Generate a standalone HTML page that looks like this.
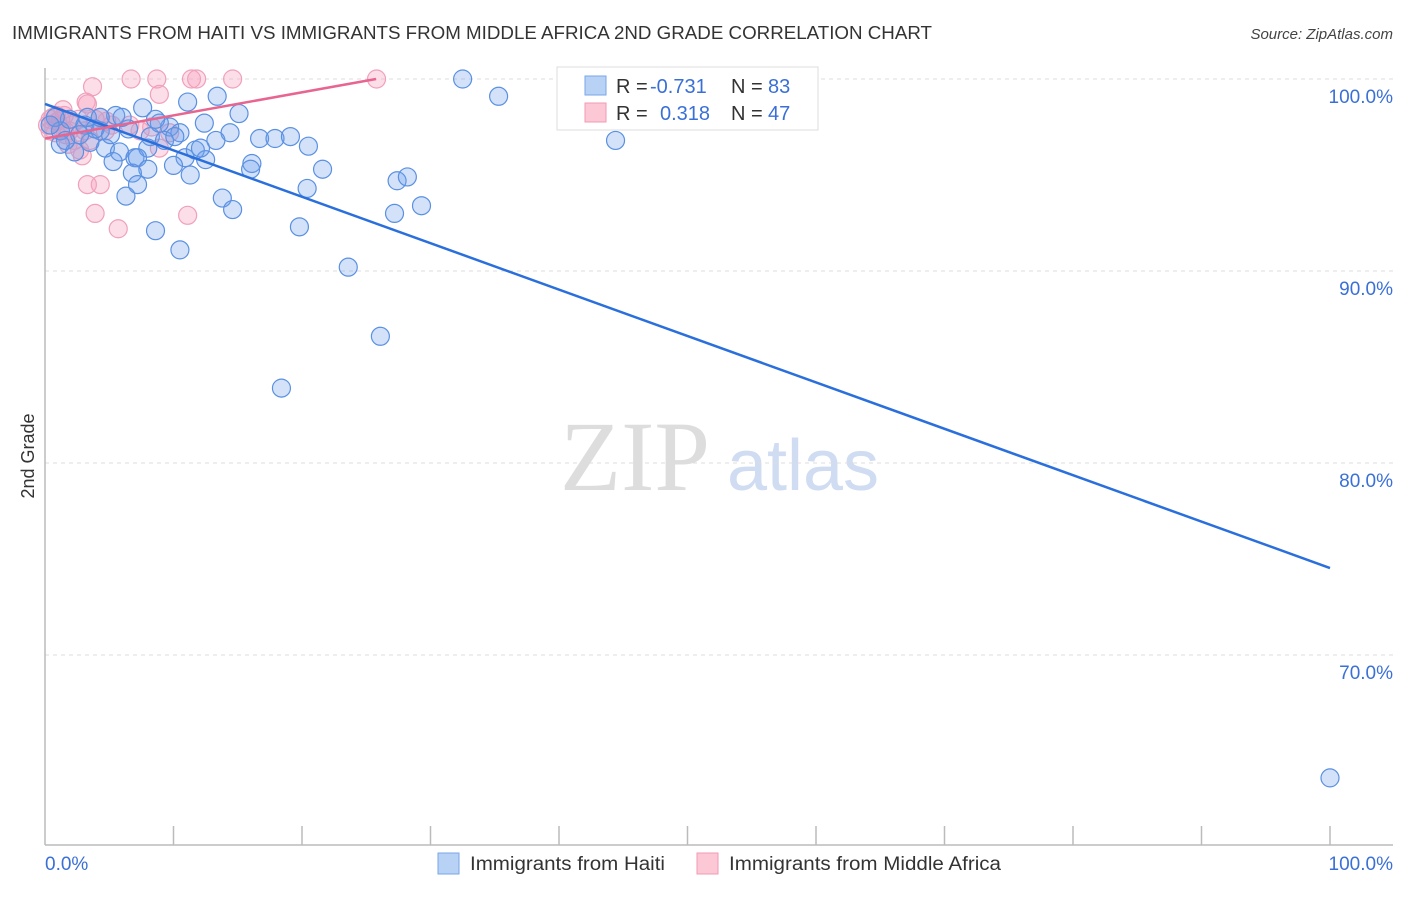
<!DOCTYPE html>
<html><head><meta charset="utf-8"><style>
body{margin:0;background:#fff;font-family:"Liberation Sans",sans-serif;}
</style></head><body>
<svg id="chart" width="1406" height="892" xmlns="http://www.w3.org/2000/svg" font-family="Liberation Sans, sans-serif">
<text x="12" y="39" font-size="18" fill="#333" textLength="920" lengthAdjust="spacingAndGlyphs">IMMIGRANTS FROM HAITI VS IMMIGRANTS FROM MIDDLE AFRICA 2ND GRADE CORRELATION CHART</text>
<text x="1393" y="39" font-size="15" fill="#444" text-anchor="end" font-style="italic">Source: ZipAtlas.com</text>
<text transform="translate(34,456) rotate(-90)" font-size="18" fill="#333" text-anchor="middle">2nd Grade</text>
<g>
<text x="635" y="490" font-size="100" fill="#ddd" text-anchor="middle" style="font-family:'Liberation Serif',serif">ZIP</text>
<text x="803" y="490" font-size="72" fill="#cfdcf2" text-anchor="middle">atlas</text>
</g>
<g id="grid"></g>
<g id="axes"></g>
<g id="marks"></g>
<g>
<rect x="557" y="67" width="261" height="63" fill="#fff" stroke="#ddd"/>
<rect x="585" y="76" width="21" height="19" fill="#b8d2f5" stroke="#7aa6e8"/>
<rect x="585" y="103" width="21" height="19" fill="#fcc8d6" stroke="#f09ab4"/>
<text x="616" y="93" font-size="20" fill="#333">R =</text>
<text x="650" y="93" font-size="20" fill="#3a70d6">-0.731</text>
<text x="731" y="93" font-size="20" fill="#333">N =</text>
<text x="768" y="93" font-size="20" fill="#3a70d6">83</text>
<text x="616" y="120" font-size="20" fill="#333">R =</text>
<text x="660" y="120" font-size="20" fill="#3a70d6">0.318</text>
<text x="731" y="120" font-size="20" fill="#333">N =</text>
<text x="768" y="120" font-size="20" fill="#3a70d6">47</text>
</g>
<g>
<rect x="438" y="853" width="21" height="21" fill="#b8d2f5" stroke="#7aa6e8"/>
<text x="470" y="870" font-size="19" fill="#333" textLength="195" lengthAdjust="spacingAndGlyphs">Immigrants from Haiti</text>
<rect x="697" y="853" width="21" height="21" fill="#fcc8d6" stroke="#f09ab4"/>
<text x="729" y="870" font-size="19" fill="#333" textLength="272" lengthAdjust="spacingAndGlyphs">Immigrants from Middle Africa</text>
</g>
</svg>
<script>
const yTicks=[100,90,80,70];
const yTickLabels=["100.0%","90.0%","80.0%","70.0%"];
const xTickLabels=["0.0%","100.0%"];
const haitiX=[32.5,35.3,13.4,11.1,7.6,5.5,15.1,12.4,14.4,9.7,10.5,6.5,1.2,3.1,4.3,8.2,9.3,10.1,13.3,16.7,17.9,19.1,20.5,44.4,1.2,2.3,3.5,4.7,5.8,7.0,8.0,10.9,11.7,12.5,5.3,7.2,16.1,16.0,10.0,8.0,6.8,11.3,21.6,7.2,27.4,28.2,20.4,6.3,13.8,14.6,27.2,29.3,8.6,19.8,10.5,23.6,26.1,18.4,100,1.9,0.8,2.7,3.9,5.1,1.6,8.9,12.1,0.4,3.3,4.3,6.0,8.6];
const haitiY=[100,99.1,99.1,98.8,98.5,98.1,98.2,97.7,97.2,97.5,97.2,97.4,97.3,97.6,97.3,97.0,96.8,97.0,96.8,96.9,96.9,97.0,96.5,96.8,96.6,96.2,96.7,96.4,96.2,95.9,96.4,95.9,96.3,95.8,95.7,95.9,95.6,95.3,95.5,95.3,95.1,95.0,95.3,94.5,94.7,94.9,94.3,93.9,93.8,93.2,93.0,93.4,92.1,92.3,91.1,90.2,86.6,83.9,63.6,97.9,98.0,97.1,97.4,97.1,96.8,97.7,96.4,97.6,98.0,98.0,98.0,97.9];
const africaX=[6.7,8.7,11.4,11.8,14.6,25.8,3.7,8.9,3.2,3.3,1.5,4.3,4.8,8.3,9.7,8.9,0.6,1.0,0.2,1.3,1.9,2.3,2.9,1.8,2.7,3.3,4.3,3.9,11.1,5.7,0.8,1.2,0.4,2.1,3.1,3.9,4.7,5.2,2.6,1.6,6.6,7.4,0.9,1.4,3.5,0.4];
const africaY=[100,100,100,100,100,100,99.6,99.2,98.8,98.7,98.1,98.0,97.8,97.5,97.2,96.4,98.0,97.8,97.6,97.4,97.3,96.8,96.0,96.6,96.3,94.5,94.5,93.0,92.9,92.2,97.2,97.9,97.9,97.6,97.3,97.9,97.3,97.6,97.9,97.1,97.6,97.3,98.1,98.4,96.8,97.3];
const haitiTrend=[[0,98.7],[100,74.53]];
const africaTrend=[[0,96.9],[25.76,100]];
const NS="http://www.w3.org/2000/svg";
const X0=45,X1=1330,Y100=79,PPU=19.2;
function sx(v){return X0+(X1-X0)*v/100;}
function sy(v){return Y100+(100-v)*PPU;}
function mk(tag,attrs,parent){const e=document.createElementNS(NS,tag);for(const k in attrs)e.setAttribute(k,attrs[k]);parent.appendChild(e);return e;}
const grid=document.getElementById('grid'),axes=document.getElementById('axes'),marks=document.getElementById('marks');
yTicks.forEach((t,i)=>{
 const l=mk('line',{x1:45,x2:1393,y1:sy(t),y2:sy(t),stroke:'#ddd','stroke-dasharray':'4,4'},grid);
 
 
 const tx=mk('text',{x:1393,y:sy(t)+24,'font-size':19,fill:'#3a70d6','text-anchor':'end'},axes);
 tx.textContent=yTickLabels[i];
 
 
});
const ya=mk('line',{x1:45,x2:45,y1:68,y2:845,stroke:'#bbb','stroke-width':1.5},axes);


const xa=mk('line',{x1:45,x2:1393,y1:845,y2:845,stroke:'#bbb','stroke-width':1.5},axes);


for(let i=1;i<=10;i++){
 const t=mk('line',{x1:sx(i*10),x2:sx(i*10),y1:826,y2:845,stroke:'#bbb','stroke-width':1.5},axes);
 
 
}
const xl0=mk('text',{x:45,y:870,'font-size':19,fill:'#3a70d6'},axes);xl0.textContent=xTickLabels[0];


const xl1=mk('text',{x:1393,y:870,'font-size':19,fill:'#3a70d6','text-anchor':'end'},axes);xl1.textContent=xTickLabels[1];


africaX.forEach((x,i)=>{
 const c=mk('circle',{cx:sx(x),cy:sy(africaY[i]),r:9,fill:'rgba(245,160,190,0.35)',stroke:'#f0a0bb','stroke-width':1.2},marks);
 
 
});
haitiX.forEach((x,i)=>{
 const c=mk('circle',{cx:sx(x),cy:sy(haitiY[i]),r:9,fill:'rgba(110,160,235,0.3)',stroke:'#5a90e2','stroke-width':1.2},marks);
 
 
});
const hl=mk('line',{x1:sx(haitiTrend[0][0]),y1:sy(haitiTrend[0][1]),x2:sx(haitiTrend[1][0]),y2:sy(haitiTrend[1][1]),stroke:'#2a6fdc','stroke-width':2.5},marks);


const al=mk('line',{x1:sx(africaTrend[0][0]),y1:sy(africaTrend[0][1]),x2:sx(africaTrend[1][0]),y2:sy(africaTrend[1][1]),stroke:'#e86590','stroke-width':2.5},marks);


</script>
</body></html>
